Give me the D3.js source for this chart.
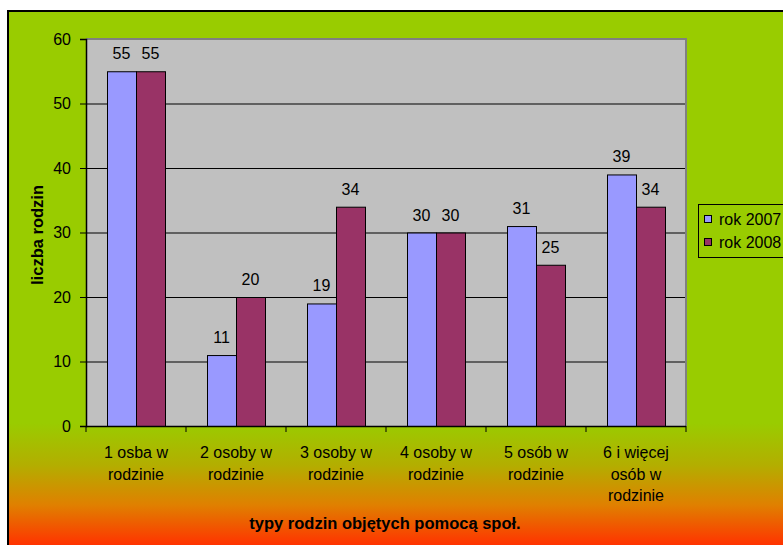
<!DOCTYPE html>
<html><head><meta charset="utf-8">
<script src="https://cdn.jsdelivr.net/npm/d3@7"></script>
<style>html,body{margin:0;padding:0;background:#fff;overflow:hidden}</style>
</head><body>
<svg id="c" width="783" height="545"></svg>
<script>
const categories = [["1 osba w","rodzinie"],["2 osoby w","rodzinie"],["3 osoby w","rodzinie"],["4 osoby w","rodzinie"],["5 osób w","rodzinie"],["6 i więcej","osób w","rodzinie"]];
const seriesNames = ["rok 2007","rok 2008"];
const values2007 = [55,11,19,30,31,39];
const values2008 = [55,20,34,30,25,34];
const yTicks = [0,10,20,30,40,50,60];
const seriesColors = ["#9999FF","#993366"];

const svg = d3.select("#c");
const font = "Liberation Sans, Arial, sans-serif";
const FS = 16, FSB = 16.5;
const defs = svg.append("defs");
const g = defs.append("linearGradient").attr("id","bg").attr("gradientUnits","userSpaceOnUse")
  .attr("x1",0).attr("y1",11).attr("x2",0).attr("y2",545);
[[0,"#99CC00"],[(423-11)/534,"#99CC00"],[(465-11)/534,"#B3AE00"],[(505-11)/534,"#E08000"],[1,"#FF3300"]]
  .forEach(([o,c])=>g.append("stop").attr("offset",o).attr("stop-color",c));

svg.append("rect").attr("x",8).attr("y",11).attr("width",800).attr("height",560)
  .attr("fill","url(#bg)").attr("stroke","#000").attr("stroke-width",2);

const L=86, R=686, T=39, B=426;
const x = d3.scaleBand().domain(d3.range(categories.length)).range([L,R]);
const y = d3.scaleLinear().domain([0,60]).range([B,T]);

svg.append("rect").attr("x",L).attr("y",T).attr("width",R-L).attr("height",B-T).attr("fill","#C0C0C0");
svg.append("g").selectAll("line").data(yTicks.filter(t=>t>0&&t<60)).join("line")
  .attr("x1",L).attr("x2",R).attr("y1",d=>y(d)+0.5).attr("y2",d=>y(d)+0.5).attr("stroke","#000").attr("stroke-width",1);
svg.append("path").attr("d",`M${L},${T} H${R} V${B}`).attr("fill","none").attr("stroke","#808080").attr("stroke-width",2);

const bw = 29;
const series=[values2007,values2008];
series.forEach((vals,si)=>{
  svg.append("g").selectAll("rect").data(vals).join("rect")
    .attr("x",(d,i)=>x(i)+x.bandwidth()/2 - bw + si*bw+0.5)
    .attr("y",d=>y(d)+0.5).attr("width",bw).attr("height",d=>y(0)-y(d))
    .attr("fill",seriesColors[si]).attr("stroke","#000").attr("stroke-width",1);
  svg.append("g").selectAll("text").data(vals).join("text")
    .attr("x",(d,i)=>x(i)+x.bandwidth()/2 - bw/2 + si*bw)
    .attr("y",d=>y(d)-12).attr("text-anchor","middle")
    .attr("font-family",font).attr("font-size",FS).attr("fill","#000").text(d=>d);
});

const ya = svg.append("g").attr("transform",`translate(${L},0)`)
  .call(d3.axisLeft(y).tickValues(yTicks).tickSize(6).tickPadding(9));
ya.select(".domain").attr("stroke","#000").attr("stroke-width",1.5);
ya.selectAll("line").attr("stroke","#000");
ya.selectAll("text").attr("font-family",font).attr("font-size",FS).attr("fill","#000");

const xa = svg.append("g").attr("transform",`translate(0,${B})`);
xa.append("line").attr("x1",L).attr("x2",R).attr("y1",0.5).attr("y2",0.5).attr("stroke","#000").attr("stroke-width",1.5);
xa.selectAll("line.t").data(d3.range(categories.length+1)).join("line").attr("class","t")
  .attr("x1",i=>i<categories.length?x(i):R).attr("x2",i=>i<categories.length?x(i):R)
  .attr("y1",0).attr("y2",6).attr("stroke","#000");
categories.forEach((lines,i)=>{
  const t = svg.append("text").attr("text-anchor","middle").attr("font-family",font).attr("font-size",FS).attr("fill","#000");
  lines.forEach((ln,j)=>t.append("tspan").attr("x",x(i)+x.bandwidth()/2).attr("y",458+j*21.5).text(ln));
});

svg.append("text").attr("x",385).attr("y",529).attr("text-anchor","middle").attr("font-family",font)
  .attr("font-size",FSB).attr("font-weight","bold").text("typy rodzin objętych pomocą społ.");
svg.append("text").attr("transform","translate(43,235) rotate(-90)").attr("text-anchor","middle").attr("font-family",font)
  .attr("font-size",FSB).attr("font-weight","bold").text("liczba rodzin");

const lg = svg.append("g");
lg.append("rect").attr("x",698.5).attr("y",204.5).attr("width",100).attr("height",53).attr("fill","#99CC00").attr("stroke","#000");
seriesNames.forEach((n,i)=>{
  lg.append("rect").attr("x",704.5).attr("y",215.5+i*23).attr("width",7).attr("height",7).attr("fill",seriesColors[i]).attr("stroke","#000");
  lg.append("text").attr("x",719).attr("y",225+i*22.5).attr("font-family",font).attr("font-size",FS).attr("fill","#000").text(n);
});
</script>
</body></html>
